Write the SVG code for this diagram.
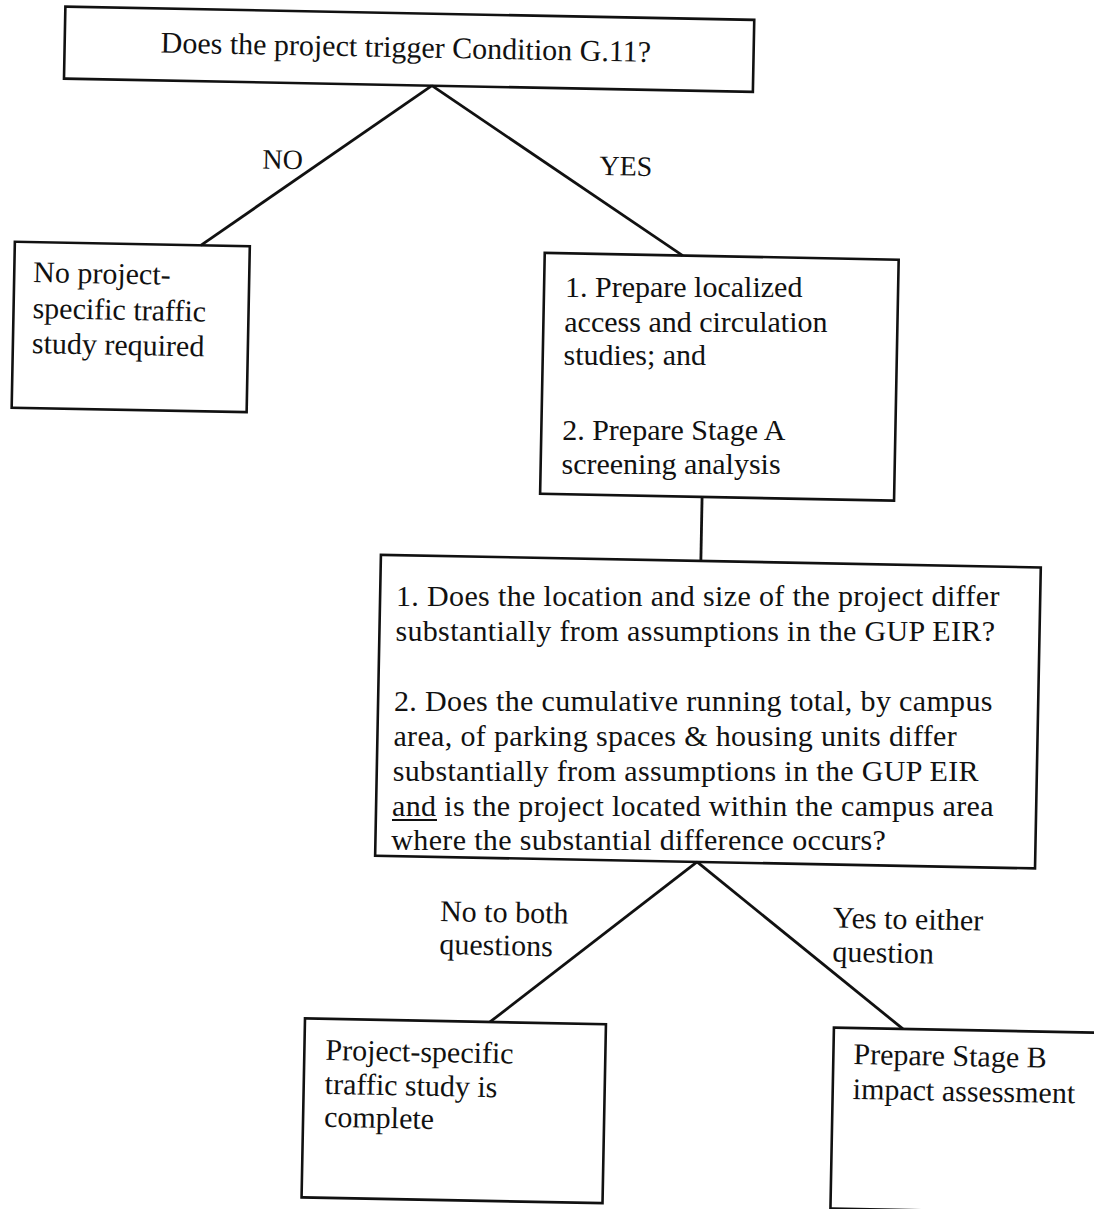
<svg xmlns="http://www.w3.org/2000/svg" width="1094" height="1209" viewBox="0 0 1094 1209">
<style>
.box{fill:none;stroke:#111;stroke-width:2.6}
.ln{stroke:#111;stroke-width:2.8;fill:none}
text{font-family:"Liberation Serif","Times New Roman",serif;fill:#111}
.t{font-size:30px}
.m{font-size:30px;letter-spacing:0.35px}
.lab{font-size:28px}
</style>
<rect width="1094" height="1209" fill="#fff"/>
<g transform="rotate(1.1 547 604)">
<g id="connectors">
<line class="ln" x1="422" y1="88" x2="194" y2="252"/>
<line class="ln" x1="422" y1="88" x2="676" y2="253"/>
<line class="ln" x1="700" y1="494" x2="700" y2="558"/>
<line class="ln" x1="702" y1="859" x2="498" y2="1023"/>
<line class="ln" x1="702" y1="859" x2="911" y2="1022"/>
<text class="lab" x="254" y="174">NO</text>
<text class="lab" x="591" y="174">YES</text>
<text class="t" x="446" y="923">No to both</text>
<text class="t" x="446" y="956">questions</text>
<text class="t" x="839" y="922">Yes to either</text>
<text class="t" x="839" y="956">question</text>
</g>
<g id="n-trigger">
<rect class="box" x="54" y="16" width="689" height="72"/>
<text class="t" x="150" y="60">Does the project trigger Condition G.11?</text>
</g>
<g id="n-no-study">
<rect class="box" x="8" y="252" width="235" height="166"/>
<text class="t" x="27" y="292">No project-</text>
<text class="t" x="27" y="328">specific traffic</text>
<text class="t" x="27" y="363">study required</text>
</g>
<g id="n-prepare-box">
<rect class="box" x="538" y="253" width="354" height="241"/>
</g>
<g id="n-questions-box">
<rect class="box" x="380" y="558" width="660" height="301"/>
</g>
<g id="n-complete">
<rect class="box" x="313" y="1023" width="301" height="179"/>
<text class="t" x="334" y="1064">Project-specific</text>
<text class="t" x="334" y="1098">traffic study is</text>
<text class="t" x="334" y="1131">complete</text>
</g>
<g id="n-stage-b">
<rect class="box" x="842" y="1022" width="290" height="181"/>
<text class="t" x="862" y="1058">Prepare Stage B</text>
<text class="t" x="862" y="1093">impact assessment</text>
</g>
</g>
<g id="n-prepare">
<text class="t" x="565" y="296.5">1.  Prepare localized</text>
<text class="t" x="564.3" y="331.7">access and circulation</text>
<text class="t" x="563.6" y="364.8">studies; and</text>
<text class="t" x="562.2" y="440.4">2.  Prepare Stage A</text>
<text class="t" x="561.5" y="474.3">screening analysis</text>
</g>
<g id="n-questions">
<text class="m" x="396" y="606">1.  Does the location and size of the project differ</text>
<text class="m" x="395.4" y="641">substantially from assumptions in the GUP EIR?</text>
<text class="m" x="394" y="711">2.  Does the cumulative running total, by campus</text>
<text class="m" x="393.4" y="745.5">area, of parking spaces &amp; housing units differ</text>
<text class="m" x="392.7" y="780.7">substantially from assumptions in the GUP EIR</text>
<text class="m" x="392" y="815.8">and is the project located within the campus area</text>
<line x1="392" y1="820" x2="437" y2="820" stroke="#111" stroke-width="2"/>
<text class="m" x="391.3" y="849.8">where the substantial difference occurs?</text>
</g>
</svg>
